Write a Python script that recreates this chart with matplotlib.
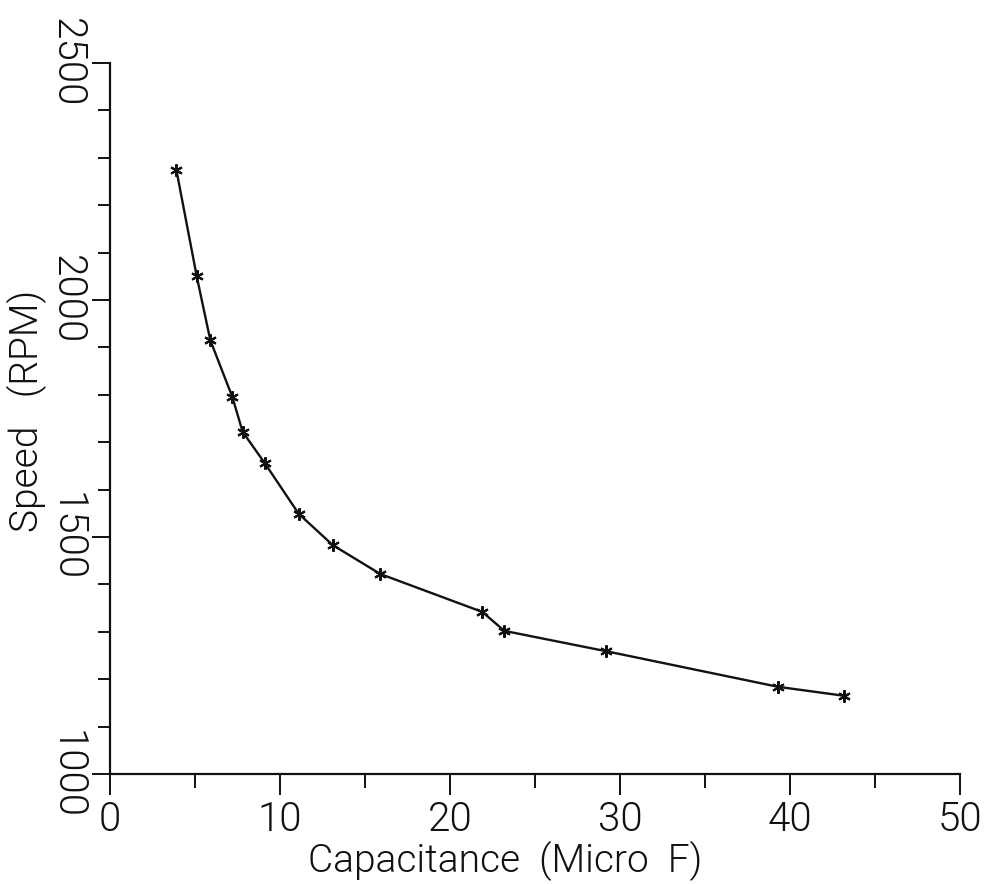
import matplotlib
matplotlib.use("Agg")
import matplotlib.pyplot as plt
from matplotlib import font_manager
from matplotlib.font_manager import FontProperties
from matplotlib.ticker import MultipleLocator

# Measured motor speed against run capacitance
capacitance = [3.9, 5.1, 5.9, 7.2, 7.8, 9.1, 11.1, 13.1, 15.9, 21.9, 23.2, 29.2, 39.3, 43.2]
speed_rpm = [2275, 2050, 1915, 1795, 1722, 1656, 1549, 1483, 1422, 1342, 1302, 1259, 1184, 1165]

x_ticks = [0, 10, 20, 30, 40, 50]
y_ticks = [1000, 1500, 2000, 2500]
x_title = "Capacitance  (Micro  F)"
y_title = "Speed   (RPM)"


def pick_light_face():
    """Return the file of a light (300) upright sans face, if one is installed."""
    wanted = ["Roboto", "Lato", "Open Sans", "Noto Sans", "DejaVu Sans"]
    for name in wanted:
        for f in font_manager.fontManager.ttflist:
            if (f.name == name and f.style == "normal"
                    and f.stretch in ("normal", 500)
                    and f.weight in (300, "light")):
                return f.fname
    return None


light_file = pick_light_face()
plt.rcParams["font.family"] = ["Roboto", "DejaVu Sans"]


def face(size):
    if light_file:
        return FontProperties(fname=light_file, size=size)
    return FontProperties(family=["Roboto", "DejaVu Sans"], size=size)


fig = plt.figure(figsize=(9.86, 8.84), dpi=100)
ax = fig.add_axes([0.1116, 0.1244, 0.8620, 0.8043])

ink = "#111111"
ax.plot(capacitance, speed_rpm, color=ink, lw=1.7,
        marker=(6, 2, 0), markersize=9, markeredgewidth=1.5,
        markeredgecolor=ink)

ax.set_xlim(0, 50)
ax.set_ylim(1000, 2500)

for side in ("top", "right"):
    ax.spines[side].set_visible(False)
for side in ("left", "bottom"):
    ax.spines[side].set_linewidth(1.6)
    ax.spines[side].set_color(ink)

ax.xaxis.set_major_locator(MultipleLocator(10))
ax.xaxis.set_minor_locator(MultipleLocator(5))
ax.yaxis.set_major_locator(MultipleLocator(500))
ax.yaxis.set_minor_locator(MultipleLocator(100))

ax.set_xticks(x_ticks)
ax.set_xticklabels([str(v) for v in x_ticks], fontproperties=face(29))
ax.set_yticks(y_ticks)
ax.set_yticklabels([str(v) for v in y_ticks], fontproperties=face(29),
                   rotation=-90, va="center")

ax.tick_params(axis="x", which="major", direction="out", length=15,
               width=1.4, pad=4, colors=ink)
ax.tick_params(axis="x", which="minor", direction="out", length=10,
               width=1.4, colors=ink)
ax.tick_params(axis="y", which="major", direction="out", length=13,
               width=1.4, pad=4, colors=ink)
ax.tick_params(axis="y", which="minor", direction="out", length=9,
               width=1.4, colors=ink)

ax.set_xlabel(x_title, fontproperties=face(28), color=ink)
ax.xaxis.set_label_coords(0.465, -0.094)
ax.set_ylabel(y_title, fontproperties=face(28), color=ink)
ax.yaxis.set_label_coords(-0.074, 0.51)

fig.savefig("out.png", dpi=100, facecolor="white")
